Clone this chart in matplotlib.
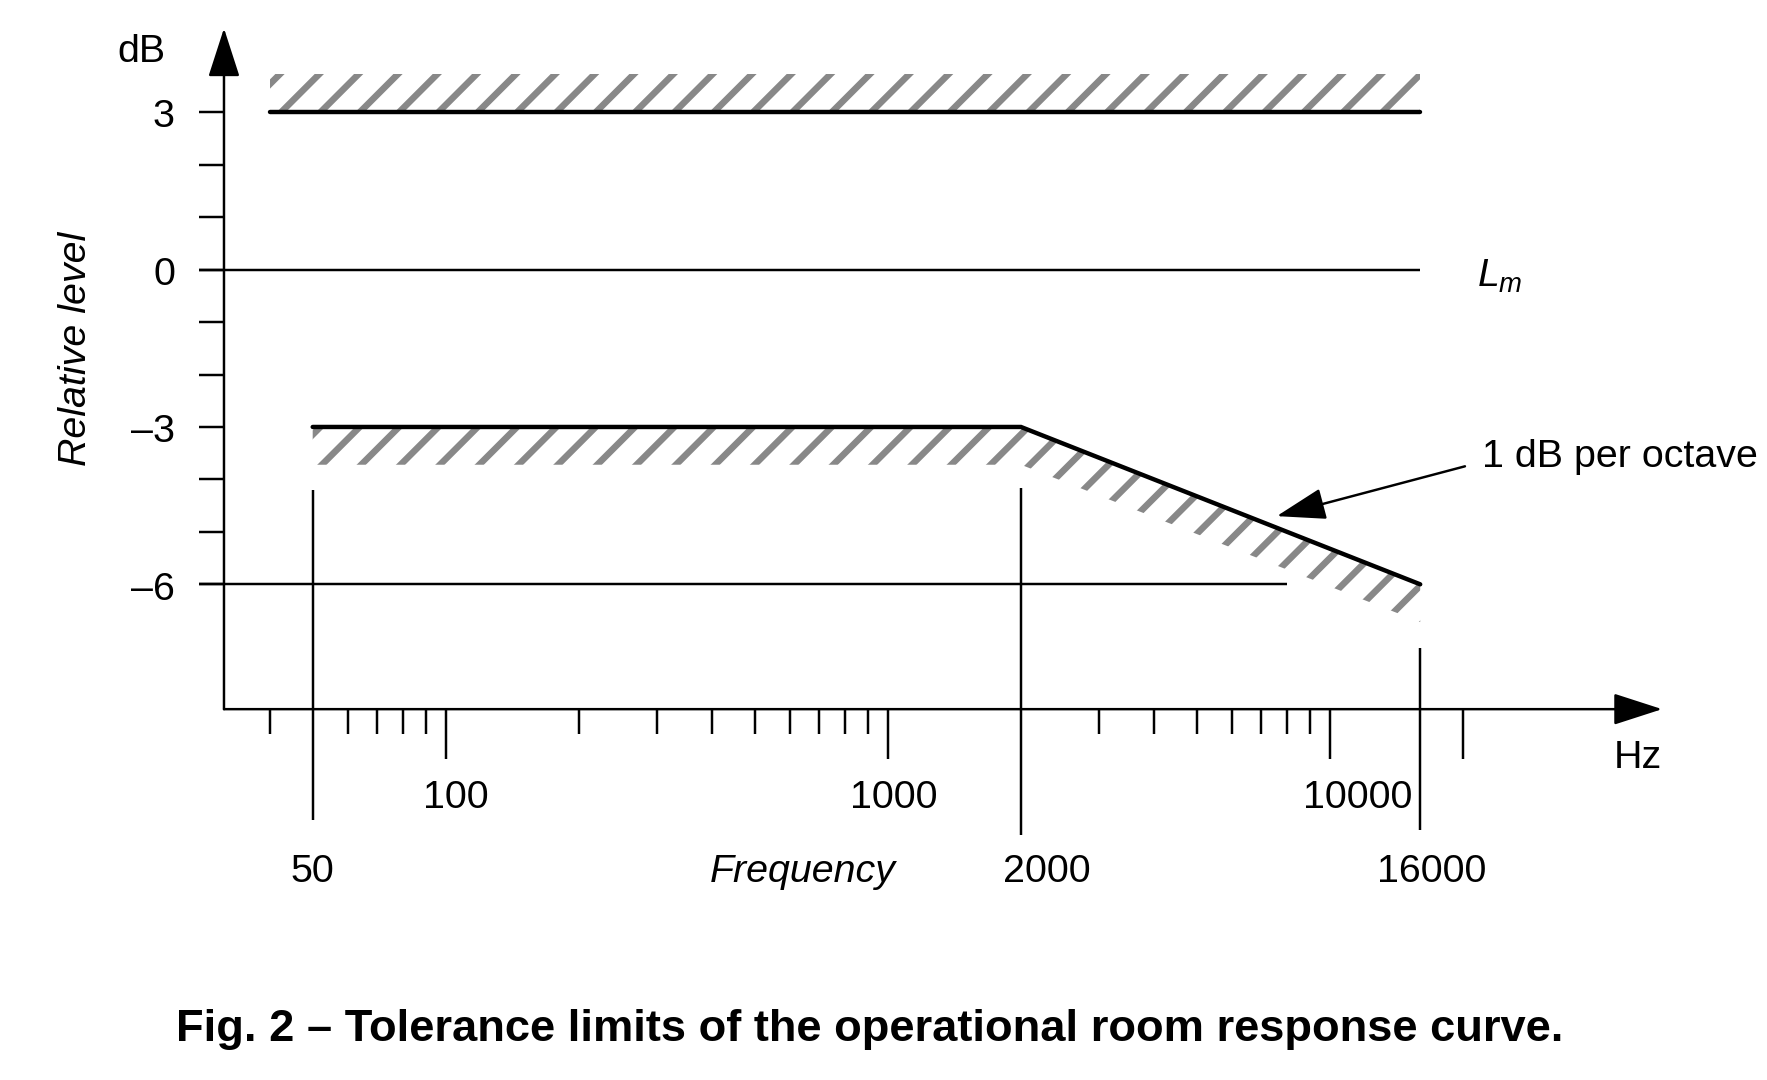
import matplotlib
matplotlib.use('Agg')
import matplotlib.pyplot as plt

plt.rcParams['font.family'] = ['Liberation Sans', 'DejaVu Sans']
plt.rcParams['mathtext.fontset'] = 'custom'
plt.rcParams['mathtext.it'] = 'Liberation Sans:italic'
plt.rcParams['mathtext.rm'] = 'Liberation Sans'
plt.rcParams['hatch.linewidth'] = 2.0
plt.rcParams['hatch.color'] = '#888888'

# tolerance limits (Hz, dB)
upper_f = [40, 16000]
upper_db = [3, 3]
lower_f = [50, 2000, 16000]
lower_db = [-3, -3, -6]
lm_db = 0
six_db_f = 8000

# axis decorations
y_ticks = [3, 2, 1, 0, -1, -2, -3, -4, -5, -6]
y_labels = {3: '3', 0: '0', -3: '\u20133', -6: '\u20136'}
minor_ticks = [40, 60, 70, 80, 90, 200, 300, 400, 500, 600, 700, 800, 900,
               3000, 4000, 5000, 6000, 7000, 8000, 9000]
major_ticks = [100, 1000, 10000, 20000]
major_labels = ['100', '1000', '10000']
marker_f = [50, 2000, 16000]
marker_labels = ['50', '2000', '16000']

AXIS_F = 31.5       # y axis sits at 31.5 Hz
AXIS_DB = -8.38     # x axis level
TICK_F = 27.7
BAND = 0.72         # hatch depth in dB
THIN = 0.75
THICK = 1.35
FS = 12

DPI = 236
fig = plt.figure(figsize=(1767 / DPI, 1080 / DPI), dpi=DPI)
ax = fig.add_axes([0, 0, 1, 1])
ax.set_xscale('log')
ax.set_xlim(9.81, 97400)
ax.set_ylim(-15.45, 5.14)
ax.axis('off')

arrow = dict(arrowstyle='-|>,head_length=1.3,head_width=0.42', color='black',
             lw=THIN, mutation_scale=10, shrinkA=0, shrinkB=0)

# axes with arrows
ax.annotate('', xy=(AXIS_F, 4.6), xytext=(AXIS_F, AXIS_DB), arrowprops=arrow)
ax.annotate('', xy=(56400, AXIS_DB), xytext=(AXIS_F, AXIS_DB), arrowprops=arrow)

# y ticks
ax.hlines(y_ticks, TICK_F, AXIS_F, color='black', lw=THIN)
for v, s in y_labels.items():
    ax.text(24.4, v - 0.29, s, ha='right', va='baseline', fontsize=FS)
ax.text(20.5, 3.96, 'dB', ha='center', va='baseline', fontsize=FS)
ax.text(14.6, -1.52, 'Relative level', rotation=90, ha='center', va='center',
        fontsize=FS, style='italic')

# x ticks
ax.vlines(minor_ticks, AXIS_DB - 0.48, AXIS_DB, color='black', lw=THIN)
ax.vlines(major_ticks, AXIS_DB - 0.95, AXIS_DB, color='black', lw=THIN)
for f, s, dx in zip(major_ticks, major_labels, [3.0, 1.8, 8.5]):
    ax.annotate(s, (f, -10.27), xytext=(dx, 0), textcoords='offset points',
                ha='center', va='baseline', fontsize=FS)

# marker lines at 50, 2000, 16000 Hz
ax.vlines(marker_f, [-4.21, -4.16, -7.21], [-10.5, -10.77, -10.69],
          color='black', lw=THIN)
for f, s, dx in zip(marker_f, marker_labels, [0, 7.9, 3.4]):
    ax.annotate(s, (f, -11.67), xytext=(dx, 0), textcoords='offset points',
                ha='center', va='baseline', fontsize=FS)
ax.text(642, -11.67, 'Frequency', ha='center', va='baseline', fontsize=FS,
        style='italic')
ax.text(49700, -9.51, 'Hz', ha='center', va='baseline', fontsize=FS)

# reference lines
ax.hlines(lm_db, TICK_F, upper_f[-1], color='black', lw=THIN)
ax.hlines(-6, TICK_F, six_db_f, color='black', lw=THIN)
ax.text(21480, -0.33, '$L_m$', ha='left', va='baseline', fontsize=FS)

# hatched tolerance bands
ax.fill_between(upper_f, upper_db, [v + BAND for v in upper_db],
                facecolor='none', edgecolor='#888888', lw=0, hatch='//')
ax.fill_between(lower_f, [v - BAND for v in lower_db], lower_db,
                facecolor='none', edgecolor='#888888', lw=0, hatch='//')

ax.plot(upper_f, upper_db, color='black', lw=THICK, solid_capstyle='round')
ax.plot(lower_f, lower_db, color='black', lw=THICK, solid_capstyle='round',
        solid_joinstyle='miter')

# slope annotation
ax.annotate('', xy=(7580, -4.70), xytext=(20200, -3.75), arrowprops=arrow)
ax.text(22050, -3.76, '1 dB per octave', ha='left', va='baseline', fontsize=FS)

fig.text(870 / 1767, 0.0364,
         'Fig. 2 \u2013 Tolerance limits of the operational room response curve.',
         ha='center', va='baseline', fontsize=13.8, fontweight='bold')

fig.savefig('out.png', dpi=DPI)
